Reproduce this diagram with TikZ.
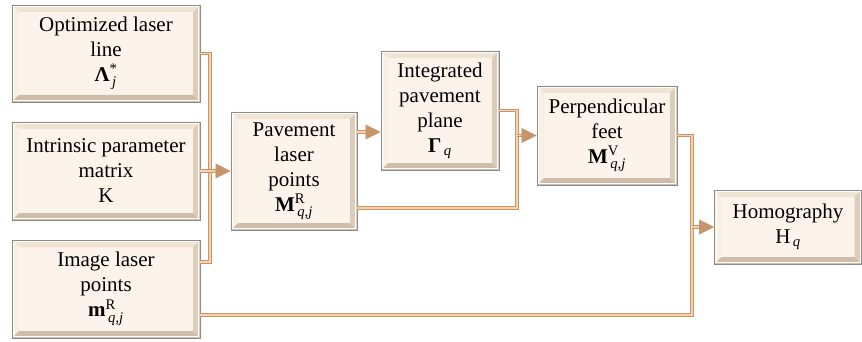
\documentclass[tikz,border=0pt]{standalone}
\usepackage{amsmath}
\usepackage{fontspec}
\setmainfont{Liberation Serif}
\usetikzlibrary{arrows.meta}

\definecolor{face}{HTML}{FCF4EA}
\definecolor{bevtop}{HTML}{EFE3D2}
\definecolor{bevleft}{HTML}{F9F0E4}
\definecolor{bevbottom}{HTML}{CDBDAA}
\definecolor{bevright}{HTML}{DCCDBA}
\definecolor{rim}{HTML}{8E8A86}
\definecolor{wireedge}{HTML}{C8946A}
\definecolor{wirecore}{HTML}{F6D3AE}
\definecolor{tipfill}{HTML}{F8C89C}

\newcommand{\supsub}[3]{$\textbf{#1}^{\text{#2}}_{\,\textit{#3}}$}

\tikzset{
  block/.style={draw=rim, line width=0.9pt, fill=face, align=center,
    inner sep=0pt, text=black, font=\fontsize{21}{25}\selectfont,
    path picture={
      \path (path picture bounding box.south west) coordinate (pp-sw)
            (path picture bounding box.north east) coordinate (pp-ne)
            (pp-sw |- pp-ne) coordinate (pp-nw)
            (pp-sw -| pp-ne) coordinate (pp-se);
      \fill[bevtop] (pp-nw) -- (pp-ne) -- ([xshift=-7pt,yshift=-7pt]pp-ne)
        -- ([xshift=7pt,yshift=-7pt]pp-nw) -- cycle;
      \fill[bevleft] (pp-nw) -- (pp-sw) -- ([xshift=7pt,yshift=7pt]pp-sw)
        -- ([xshift=7pt,yshift=-7pt]pp-nw) -- cycle;
      \fill[bevbottom] (pp-sw) -- (pp-se) -- ([xshift=-7pt,yshift=7pt]pp-se)
        -- ([xshift=7pt,yshift=7pt]pp-sw) -- cycle;
      \fill[bevright] (pp-se) -- (pp-ne) -- ([xshift=-7pt,yshift=-7pt]pp-ne)
        -- ([xshift=-7pt,yshift=7pt]pp-se) -- cycle;
      \draw[white, line width=0.6pt] ([xshift=1.5pt,yshift=1.5pt]pp-sw)
        rectangle ([xshift=-1.5pt,yshift=-1.5pt]pp-ne);
    }},
  wireline/.style={draw=wireedge, line width=0.9pt, double=wirecore,
    double distance=1.6pt},
  wirearrow/.style={wireline, shorten >=14pt},
  tiphead/.style={draw=wireedge, line width=0.7pt, fill=tipfill,
    -{Triangle[length=15pt,width=15pt]}},
}

\begin{document}
\begin{tikzpicture}[x=1pt, y=-1pt]
  \useasboundingbox (0,0) rectangle (862,342);

  % input blocks
  \node[block, minimum width=188pt, minimum height=97pt] (opt) at (106,53.5)
    {Optimized laser\\line\\\supsub{Λ}{*}{j}};
  \node[block, minimum width=188pt, minimum height=98pt] (intr) at (106,171)
    {Intrinsic parameter\\matrix\\K};
  \node[block, minimum width=188pt, minimum height=98pt] (img) at (106,289)
    {Image laser\\points\\\supsub{m}{R}{q,j}};

  % processing blocks
  \node[block, minimum width=126pt, minimum height=118pt] (pav) at (294,171)
    {Pavement\\laser\\points\\\supsub{M}{R}{q,j}};
  \node[block, minimum width=118pt, minimum height=119pt] (plane) at (440,110.5)
    {Integrated\\pavement\\plane\\$\textbf{Γ}_{\,\textit{q}}$};
  \node[block, minimum width=140pt, minimum height=99pt] (perp) at (607,135.5)
    {Perpendicular\\feet\\\supsub{M}{V}{q,j}};
  \node[block, minimum width=147pt, minimum height=74pt] (homo) at (788,227)
    {Homography\\H$_{\,\textit{q}}$};

  % junction points
  \coordinate (jL) at (210,171);
  \coordinate (jM) at (517,135.5);
  \coordinate (jR) at (692,227);
  \coordinate (imgUp) at ([yshift=27pt]img.east);
  \coordinate (imgLow) at ([yshift=-26pt]img.east);
  \coordinate (pavUp) at ([yshift=39pt]pav.east);
  \coordinate (pavLow) at ([yshift=-37pt]pav.east);
  \coordinate (plIn) at (pavUp -| plane.west);

  % connectors
  \draw[wireline] (opt.east) -| (jL);
  \draw[wireline] (imgUp) -| (jL);
  \draw[wirearrow] (intr.east) -- (pav.west);
  \draw[tiphead] ([xshift=-15pt]pav.west) -- (pav.west);

  \draw[wirearrow] (pavUp) -- (plIn);
  \draw[tiphead] ([xshift=-15pt]plIn) -- (plIn);
  \draw[wireline] (pavLow) -| (jM);
  \draw[wireline] (plane.east) -| (jM);
  \draw[wirearrow] (jM) -- (perp.west);
  \draw[tiphead] ([xshift=-15pt]perp.west) -- (perp.west);

  \draw[wireline] (perp.east) -| (jR);
  \draw[wireline] (imgLow) -| (jR);
  \draw[wirearrow] (jR) -- (homo.west);
  \draw[tiphead] ([xshift=-15pt]homo.west) -- (homo.west);
\end{tikzpicture}
\end{document}
